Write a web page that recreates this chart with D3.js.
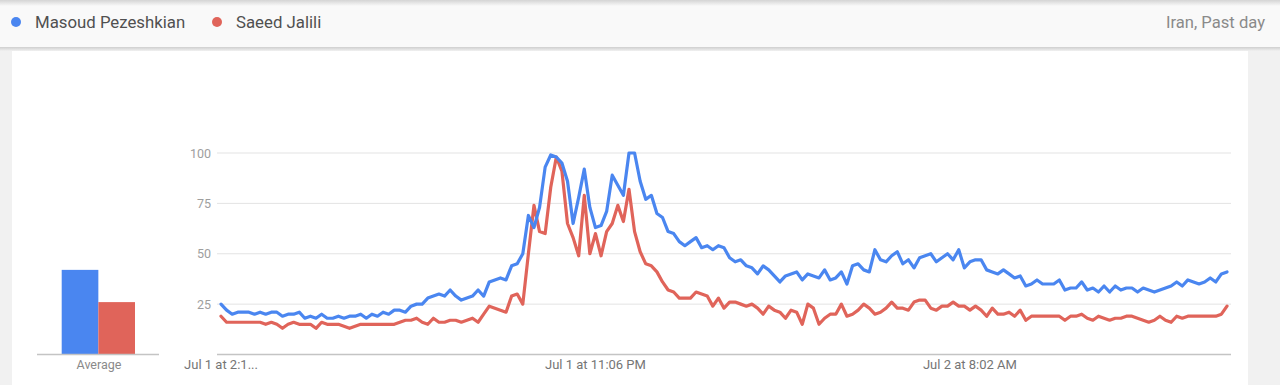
<!DOCTYPE html>
<html>
<head>
<meta charset="utf-8">
<script src="https://cdn.jsdelivr.net/npm/d3@7"></script>
<style>
  html, body { margin: 0; padding: 0; background: #f1f1f1; }
  svg { display: block; font-family: Roboto, "Noto Sans", Arial, sans-serif; }
</style>
</head>
<body>
<svg id="chart" width="1280" height="385"></svg>
<script>
// ---------------- DATA ----------------
const seriesNames = ["Masoud Pezeshkian", "Saeed Jalili"];
const seriesColors = ["#4a86f0", "#e0645a"];
const regionLabel = "Iran, Past day";

const averages = [42, 26];
const averageLabel = "Average";

const yTicks = [25, 50, 75, 100];
const xTickIndex = [0, 67, 134];
const xTickLabels = ["Jul 1 at 2:1...", "Jul 1 at 11:06 PM", "Jul 2 at 8:02 AM"];

const pezeshkian = [
  25,22,20,21,21,21,20,21,20,21,
  21,19,20,20,21,18,19,18,20,18,
  18,19,18,19,19,20,18,20,19,21,
  20,22,22,21,24,25,25,28,29,30,
  29,32,29,27,28,29,32,29,36,37,
  38,37,44,45,50,69,63,73,93,99,
  98,95,86,65,78,92,73,63,64,71,
  89,84,79,100,100,86,77,79,70,68,
  61,60,56,54,56,58,53,54,52,54,
  53,48,46,47,44,43,40,44,42,39,
  36,39,40,41,37,40,39,38,42,37,
  38,41,35,44,45,42,41,52,47,46,
  49,51,45,47,43,48,49,50,46,48,
  50,47,52,43,46,47,47,42,41,40,
  42,40,38,39,34,35,37,35,35,35,
  37,32,33,33,36,32,33,31,34,31,
  34,32,33,33,31,33,32,31,32,33,
  34,36,34,37,36,35,36,38,36,40,
  41
];

const jalili = [
  19,16,16,16,16,16,16,16,15,16,
  15,13,15,16,15,15,15,13,16,15,
  15,15,14,13,14,15,15,15,15,15,
  15,15,16,17,17,18,16,15,18,16,
  16,17,17,16,17,18,16,20,24,23,
  22,21,29,30,25,50,74,61,60,83,
  98,91,65,58,49,79,50,60,49,61,
  65,74,66,82,61,51,45,44,41,36,
  32,31,28,28,28,31,30,29,24,28,
  23,26,26,25,24,25,23,20,24,22,
  21,18,22,21,15,25,23,15,18,20,
  20,25,19,20,22,25,23,20,21,23,
  26,23,23,22,26,27,27,23,22,24,
  24,26,24,24,22,24,22,19,23,20,
  20,21,19,22,17,19,19,19,19,19,
  19,17,19,19,20,18,17,19,18,17,
  18,18,19,19,18,17,16,17,19,17,
  16,19,18,19,19,19,19,19,19,20,
  24
];

const seriesValues = [pezeshkian, jalili];

// ---------------- DRAW ----------------
const svg = d3.select("#chart");
const defs = svg.append("defs");

const topShadow = defs.append("linearGradient").attr("id", "topShadow")
  .attr("x1", 0).attr("y1", 0).attr("x2", 0).attr("y2", 1);
topShadow.append("stop").attr("offset", "0%").attr("stop-color", "#d4d4d4");
topShadow.append("stop").attr("offset", "100%").attr("stop-color", "#f9f9f9");

const botShadow = defs.append("linearGradient").attr("id", "botShadow")
  .attr("x1", 0).attr("y1", 0).attr("x2", 0).attr("y2", 1);
botShadow.append("stop").attr("offset", "0%").attr("stop-color", "#cfcfcf");
botShadow.append("stop").attr("offset", "100%").attr("stop-color", "#f1f1f1");

// page background + card
svg.append("rect").attr("x", 0).attr("y", 0).attr("width", 1280).attr("height", 385).attr("fill", "#f1f1f1");
svg.append("rect").attr("x", 12).attr("y", 50).attr("width", 1236).attr("height", 340).attr("fill", "#ffffff");

// header
svg.append("rect").attr("x", 0).attr("y", 0).attr("width", 1280).attr("height", 47).attr("fill", "#f9f9f9");
svg.append("rect").attr("x", 0).attr("y", 0).attr("width", 1280).attr("height", 6).attr("fill", "url(#topShadow)");
svg.append("rect").attr("x", 0).attr("y", 47).attr("width", 1280).attr("height", 4).attr("fill", "url(#botShadow)");

// legend
const legendX = [16, 217];
seriesNames.forEach((name, i) => {
  svg.append("circle").attr("cx", legendX[i]).attr("cy", 22).attr("r", 5).attr("fill", seriesColors[i]);
  svg.append("text").attr("x", legendX[i] + 19).attr("y", 28)
    .attr("font-size", 16.8).attr("fill", "#505050").text(name);
});
svg.append("text").attr("x", 1265).attr("y", 28).attr("text-anchor", "end")
  .attr("font-size", 16.6).attr("fill", "#8a8a8a").text(regionLabel);

// scales
const y = d3.scaleLinear().domain([0, 100]).range([354.5, 153]);
const x = d3.scaleLinear().domain([0, pezeshkian.length - 1]).range([221, 1227]);

// gridlines
const gridG = svg.append("g");
gridG.selectAll("line.grid").data(yTicks).enter().append("line")
  .attr("x1", 217).attr("x2", 1231)
  .attr("y1", d => y(d)).attr("y2", d => y(d))
  .attr("stroke", "#e3e3e3").attr("stroke-width", 1);
gridG.append("line").attr("x1", 217).attr("x2", 1231)
  .attr("y1", y(0)).attr("y2", y(0))
  .attr("stroke", "#c4c4c4").attr("stroke-width", 1.3);

// y labels
svg.append("g").selectAll("text").data(yTicks).enter().append("text")
  .attr("x", 211).attr("y", d => y(d) + 4.5).attr("text-anchor", "end")
  .attr("font-size", 12.5).attr("fill", "#9e9e9e").text(d => d);

// x labels
svg.append("g").selectAll("text").data(xTickIndex).enter().append("text")
  .attr("x", d => x(d)).attr("y", 369).attr("text-anchor", "middle")
  .attr("font-size", 13).attr("fill", "#757575").text((d, i) => xTickLabels[i]);

// lines
const line = d3.line().x((d, i) => x(i)).y(d => y(d)).curve(d3.curveLinear);
[1, 0].forEach(s => {
  svg.append("path").datum(seriesValues[s])
    .attr("d", line).attr("fill", "none")
    .attr("stroke", seriesColors[s]).attr("stroke-width", 3.2)
    .attr("stroke-linejoin", "round").attr("stroke-linecap", "round");
});

// average bars
const xb = d3.scaleBand().domain(seriesNames).range([61.7, 135]).paddingInner(0).paddingOuter(0);
svg.append("g").selectAll("rect").data(averages).enter().append("rect")
  .attr("x", (d, i) => xb(seriesNames[i]))
  .attr("width", xb.bandwidth())
  .attr("y", d => y(d))
  .attr("height", d => y(0) - y(d))
  .attr("fill", (d, i) => seriesColors[i]);
svg.append("line").attr("x1", 37).attr("x2", 159).attr("y1", y(0)).attr("y2", y(0))
  .attr("stroke", "#c4c4c4").attr("stroke-width", 1.3);
svg.append("text").attr("x", 99).attr("y", 369).attr("text-anchor", "middle")
  .attr("font-size", 12.5).attr("fill", "#8a8a8a").text(averageLabel);
</script>
</body>
</html>
